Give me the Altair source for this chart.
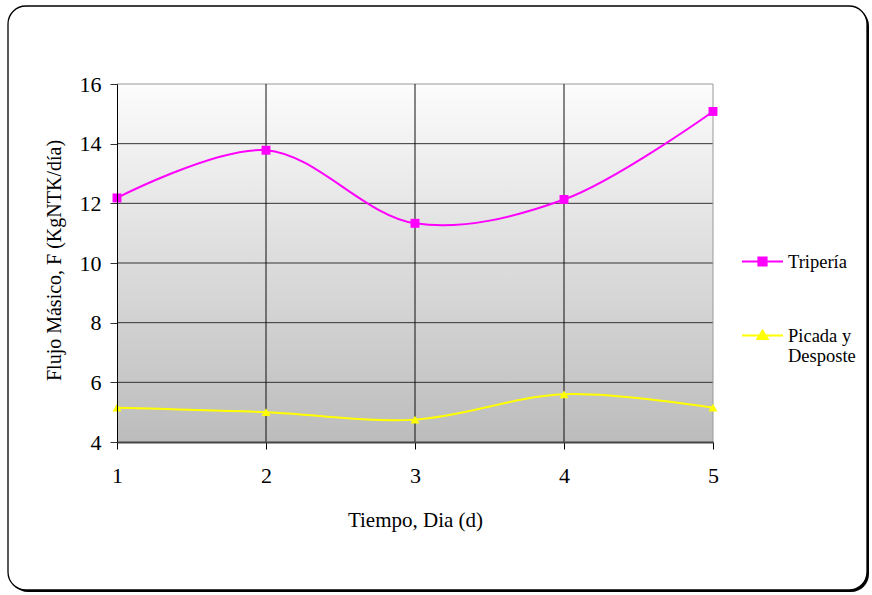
import altair as alt
import pandas as pd

# Mass flow per day for each process line
dias = [1, 2, 3, 4, 5]
triperia = [12.18, 13.78, 11.33, 12.13, 15.08]
picada = [5.15, 5.00, 4.75, 5.60, 5.15]
series = ["Tripería", "Picada y Desposte"]
colors = ["#FF00FF", "#FFFF00"]
y_ticks = [4, 6, 8, 10, 12, 14, 16]

W, H = 596, 358
FONT = "Liberation Serif"

df = pd.DataFrame({
    "dia": dias * 2,
    "valor": triperia + picada,
    "serie": [series[0]] * len(dias) + [series[1]] * len(dias),
})
one = pd.DataFrame({"k": [0]})

xs = alt.Scale(domain=[min(dias), max(dias)], nice=False)
ys = alt.Scale(domain=[min(y_ticks), max(y_ticks)], nice=False)

x_axis = alt.Axis(
    values=dias, format="d", grid=False, zindex=1,
    domainColor="#444444", domainWidth=2,
    tickColor="#000000", tickSize=7, tickWidth=1,
    labelFont=FONT, labelFontSize=22, labelColor="black", labelPadding=16,
    labelFlush=False, labelOverlap=False,
    title="Tiempo, Dia (d)", titleFont=FONT, titleFontSize=21,
    titleFontWeight="normal", titleColor="black",
    titleY=78, titleBaseline="middle",
)
y_axis = alt.Axis(
    values=y_ticks, grid=False, zindex=1,
    domainColor="#000000", domainWidth=1,
    tickColor="#333333", tickSize=7, tickWidth=1,
    labelFont=FONT, labelFontSize=22, labelColor="black", labelPadding=9,
    labelFlush=False, labelOverlap=False,
    title="Flujo Másico, F (KgNTK/día)", titleFont=FONT, titleFontSize=20,
    titleFontWeight="normal", titleColor="black",
    titleX=-63, titleY=H / 2 - 3, titleBaseline="middle",
)

# Rounded frame with a drop shadow on the lower right
shadow = alt.Chart(one).mark_rect(color="black", cornerRadius=18).encode(
    x=alt.value(-107), x2=alt.value(752), y=alt.value(-76), y2=alt.value(508)
)
frame = alt.Chart(one).mark_rect(
    fill="white", stroke="black", strokeWidth=1.3, cornerRadius=18
).encode(x=alt.value(-109), x2=alt.value(750), y=alt.value(-78), y2=alt.value(506))

# Plot-area gradient, white at the top fading to grey
plot_bg = alt.Chart(one).mark_rect(
    fill=alt.Gradient(
        gradient="linear",
        stops=[alt.GradientStop(color="#fcfcfc", offset=0),
               alt.GradientStop(color="#bcbcbc", offset=1)],
        x1=0, x2=0, y1=0, y2=1,
    )
).encode(x=alt.value(0), x2=alt.value(W), y=alt.value(0), y2=alt.value(H))

ygrid = alt.Chart(pd.DataFrame({"v": y_ticks[1:]})).mark_rule(strokeWidth=1).encode(
    y=alt.Y("v:Q", scale=ys, axis=y_axis),
    color=alt.condition(alt.datum.v == max(y_ticks), alt.value("#999999"), alt.value("#333333")),
)
xgrid = alt.Chart(pd.DataFrame({"d": dias[1:]})).mark_rule(strokeWidth=1).encode(
    x=alt.X("d:Q", scale=xs, axis=x_axis),
    color=alt.condition(alt.datum.d == max(dias), alt.value("#999999"), alt.value("#111111")),
)

base = alt.Chart(df).encode(
    x=alt.X("dia:Q", scale=xs, axis=x_axis),
    y=alt.Y("valor:Q", scale=ys, axis=y_axis),
)

lines = base.mark_line(interpolate="catmull-rom", strokeWidth=2).encode(
    stroke=alt.Stroke("serie:N", scale=alt.Scale(domain=series, range=colors), legend=None),
)
points = base.mark_point(filled=True, size=80, opacity=1).encode(
    fill=alt.Fill("serie:N", scale=alt.Scale(domain=series, range=colors), legend=None),
    shape=alt.Shape("serie:N", scale=alt.Scale(domain=series, range=["square", "triangle-up"]), legend=None),
)

# Legend symbols: a short line with the series marker in the middle
sym_sq = "M-1,0H1M-0.2,-0.2H0.2V0.2H-0.2Z"
sym_tri = "M-1,0H1M0,-0.24L0.25,0.17H-0.25Z"
SYM = 1681

leg = alt.Legend(
    title=None, orient="none", legendX=624, legendY=156,
    symbolSize=SYM, symbolStrokeWidth=2, symbolOpacity=1,
    labelFont=FONT, labelFontSize=18.5, labelColor="black", labelOffset=4,
    labelLimit=400, labelBaseline="middle", rowPadding=43,
    labelExpr="datum.label == 'Picada y Desposte' ? ['Picada y', 'Desposte'] : datum.label",
)
legend_layer = alt.Chart(df.drop_duplicates("serie")).mark_point(
    filled=True, size=SYM, opacity=1, strokeWidth=2
).encode(
    x=alt.value(-3000), y=alt.value(-3000),
    fill=alt.Fill("serie:N", scale=alt.Scale(domain=series, range=colors), legend=leg),
    stroke=alt.Stroke("serie:N", scale=alt.Scale(domain=series, range=colors), legend=leg),
    shape=alt.Shape("serie:N", scale=alt.Scale(domain=series, range=[sym_sq, sym_tri]), legend=leg),
)

chart = alt.layer(
    shadow, frame, plot_bg, ygrid, xgrid, lines, points, legend_layer
).resolve_scale(
    fill="independent", stroke="independent", shape="independent", color="independent"
).properties(
    width=W, height=H,
    padding={"left": 117, "top": 84, "right": 872 - 117 - W, "bottom": 595 - 84 - H},
    autosize=alt.AutoSizeParams(type="none"),
    background="white",
).configure_view(stroke=None)

chart.save("out.html", embed_options={"renderer": "svg", "actions": False})
